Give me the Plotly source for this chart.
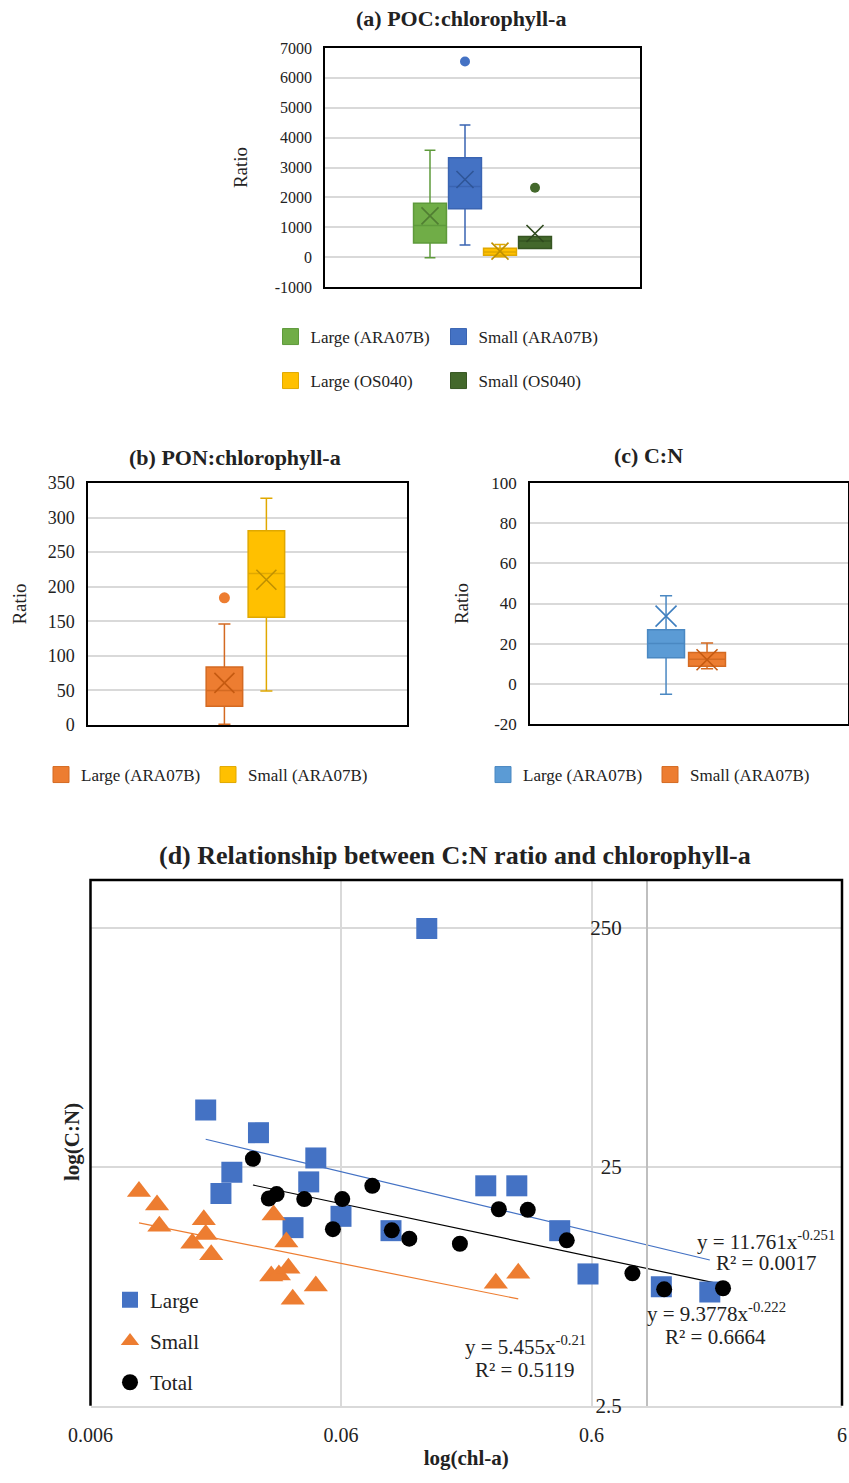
import numpy as np
import plotly.graph_objects as go

FONT = "Liberation Serif"
W, H = 849, 1483

# ---------------- data ----------------
# (a) POC:chlorophyll-a
poc_groups = ["Large (ARA07B)", "Small (ARA07B)", "Large (OS040)", "Small (OS040)"]
poc_q1 = [470, 1620, 60, 290]
poc_median = [1060, 2360, 170, 540]
poc_q3 = [1800, 3330, 300, 690]
poc_lower = [-20, 410, 10, 290]
poc_upper = [3580, 4420, 420, 690]
poc_mean = [1380, 2600, 200, 790]
poc_outliers = [[], [6550], [], [2320]]
poc_ticks = [-1000, 0, 1000, 2000, 3000, 4000, 5000, 6000, 7000]

# (b) PON:chlorophyll-a
pon_groups = ["Large (ARA07B)", "Small (ARA07B)"]
pon_q1 = [27, 156]
pon_median = [50, 219]
pon_q3 = [84, 281]
pon_lower = [1, 49]
pon_upper = [146, 328]
pon_mean = [61, 210]
pon_outliers = [[184], []]
pon_ticks = [0, 50, 100, 150, 200, 250, 300, 350]

# (c) C:N
cn_groups = ["Large (ARA07B)", "Small (ARA07B)"]
cn_q1 = [13.0, 8.8]
cn_median = [20.1, 12.2]
cn_q3 = [26.9, 15.6]
cn_lower = [-5.2, 7.5]
cn_upper = [43.8, 20.3]
cn_mean = [33.7, 12.0]
cn_outliers = [[], []]
cn_ticks = [-20, 0, 20, 40, 60, 80, 100]

# (d) C:N vs chlorophyll-a
large_chl = [0.132, 0.0173, 0.0281, 0.0476, 0.0220, 0.0199, 0.0446, 0.0386,
             0.060, 0.095, 0.227, 0.302, 0.448, 0.581, 1.14, 1.78]
large_cn = [248, 43.2, 34.7, 27.2, 23.7, 19.3, 21.6, 13.9,
            15.5, 13.5, 20.8, 20.8, 13.5, 8.9, 7.87, 7.48]
small_chl = [0.00937, 0.01106, 0.0113, 0.0170, 0.0173, 0.0153, 0.0182, 0.0323,
             0.0363, 0.0316, 0.0339, 0.0370, 0.0385, 0.0476, 0.249, 0.306]
small_cn = [19.7, 17.3, 14.1, 15.0, 13.0, 11.95, 10.7, 15.7,
            12.1, 8.72, 8.81, 9.4, 6.97, 7.92, 8.13, 8.95]
total_chl = [0.0267, 0.0309, 0.0332, 0.0428, 0.0607, 0.080, 0.0557, 0.0957,
             0.1124, 0.179, 0.256, 0.334, 0.478, 0.874, 1.17, 2.01]
total_cn = [27.0, 18.4, 19.2, 18.3, 18.3, 20.8, 13.7, 13.55,
            12.5, 11.9, 16.6, 16.5, 12.3, 8.95, 7.67, 7.75]
# power trendlines y = a * x^b (as printed on the chart)
fit_large = (11.761, -0.251, "0.0017")
fit_small = (5.455, -0.21, "0.5119")
fit_total = (9.3778, -0.222, "0.6664")

x_ticks_d = [0.006, 0.06, 0.6, 6]
y_ticks_d = [2.5, 25, 250]

# ---------------- helpers ----------------
def fx(px):
    return px / W

def fy(py):
    return 1 - py / H

fig = go.Figure()
legend_cfg = {}
leg_counter = [0]

def new_legend(cx, cy, size=17):
    leg_counter[0] += 1
    key = "legend" if leg_counter[0] == 1 else f"legend{leg_counter[0]}"
    legend_cfg[key] = dict(x=fx(cx - 20), y=fy(cy), xanchor="left", yanchor="middle",
                           bgcolor="rgba(0,0,0,0)", borderwidth=0,
                           font=dict(family=FONT, size=size, color="#222"),
                           itemclick=False, itemdoubleclick=False)
    return key

def box_panel(n, groups, q1, med, q3, lo, hi, mean, outl, fills, edges,
              mcolors, msize, bw, leg_pos, osize=10):
    xa = "x" if n == 1 else f"x{n}"
    ya = "y" if n == 1 else f"y{n}"
    for i, g in enumerate(groups):
        fig.add_trace(go.Box(x=[g], q1=[q1[i]], median=[med[i]], q3=[q3[i]],
                             lowerfence=[lo[i]], upperfence=[hi[i]],
                             fillcolor=fills[i], line=dict(color=edges[i], width=1.5),
                             whiskerwidth=0.33, width=bw, boxpoints=False,
                             showlegend=False, hoverinfo="skip", xaxis=xa, yaxis=ya))
    for i, g in enumerate(groups):
        fig.add_trace(go.Scatter(x=[g], y=[mean[i]], mode="markers",
                                 marker=dict(symbol="x-thin-open", size=msize,
                                             color=mcolors[i],
                                             line=dict(color=mcolors[i], width=1.6)),
                                 showlegend=False, hoverinfo="skip", xaxis=xa, yaxis=ya))
        if outl[i]:
            fig.add_trace(go.Scatter(x=[g] * len(outl[i]), y=outl[i], mode="markers",
                                     marker=dict(symbol="circle", size=osize, color=fills[i]),
                                     showlegend=False, hoverinfo="skip", xaxis=xa, yaxis=ya))
    for i, g in enumerate(groups):
        key = new_legend(*leg_pos[i])
        fig.add_trace(go.Scatter(x=[None], y=[None], mode="markers", name=g,
                                 marker=dict(symbol="square", size=16, color=fills[i],
                                             line=dict(color=edges[i], width=1)),
                                 legend=key, showlegend=True, xaxis=xa, yaxis=ya))

# ---------------- panel (a) ----------------
box_panel(1, poc_groups, poc_q1, poc_median, poc_q3, poc_lower, poc_upper, poc_mean,
          poc_outliers,
          ["#70AD47", "#4472C4", "#FFC000", "#43682B"],
          ["#5E9A3B", "#3A64B2", "#E0A800", "#365522"],
          ["#507E32", "#2F5597", "#BF9000", "#2E4A1D"], 17, 0.94,
          [(290.5, 337), (458.5, 337), (290.5, 381), (458.5, 381)], osize=10)

# ---------------- panel (b) ----------------
box_panel(2, pon_groups, pon_q1, pon_median, pon_q3, pon_lower, pon_upper, pon_mean,
          pon_outliers,
          ["#ED7D31", "#FFC000"],
          ["#D46A22", "#E0A800"],
          ["#C55A11", "#BF9000"], 20, 0.87,
          [(61, 775), (228, 775)], osize=11)

# ---------------- panel (c) ----------------
box_panel(3, cn_groups, cn_q1, cn_median, cn_q3, cn_lower, cn_upper, cn_mean,
          cn_outliers,
          ["#5B9BD5", "#ED7D31"],
          ["#4A88C2", "#D46A22"],
          ["#3F7FBF", "#C55A11"], 21, 0.9,
          [(503, 775), (670, 775)])

# ---------------- panel (d) ----------------
dleg = new_legend(130, 1341, size=21)
legend_cfg[dleg].update(tracegroupgap=11, yanchor="middle")

def trend(xs, fit, color):
    a, b, _ = fit
    xl = np.array([min(xs), max(xs)])
    fig.add_trace(go.Scatter(x=xl, y=a * xl ** b, mode="lines",
                             line=dict(color=color, width=1.2), showlegend=False,
                             hoverinfo="skip", xaxis="x4", yaxis="y4"))

trend(large_chl, fit_large, "#4472C4")
trend(small_chl, fit_small, "#ED7D31")
trend(total_chl, fit_total, "#000000")

fig.add_trace(go.Scatter(x=large_chl, y=large_cn, mode="markers", name="Large",
                         marker=dict(symbol="square", size=21, color="#4472C4"),
                         legend=dleg, legendgroup="L", xaxis="x4", yaxis="y4"))
fig.add_trace(go.Scatter(x=small_chl, y=small_cn, mode="markers", name="Small",
                         marker=dict(symbol="triangle-up", size=21, color="#ED7D31"),
                         legend=dleg, legendgroup="S", xaxis="x4", yaxis="y4"))
fig.add_trace(go.Scatter(x=total_chl, y=total_cn, mode="markers", name="Total",
                         marker=dict(symbol="circle", size=16, color="#000000"),
                         legend=dleg, legendgroup="T", xaxis="x4", yaxis="y4"))

# ---------------- layout ----------------
GRID = "#D9D9D9"

def box_axes(n, xd, yd, yr, ticks, xr, tsize, standoff):
    sx = "" if n == 1 else str(n)
    xa = dict(domain=[fx(xd[0]), fx(xd[1])], anchor=f"y{sx}", type="category",
              range=xr, showticklabels=False, ticks="", showgrid=False,
              showline=True, linecolor="#000", linewidth=1.5, mirror=True,
              zeroline=False, fixedrange=True)
    ya = dict(domain=[fy(yd[1]), fy(yd[0])], anchor=f"x{sx}", range=yr,
              tickvals=ticks, ticktext=[str(t) for t in ticks],
              showgrid=True, gridcolor=GRID, gridwidth=1.5, zeroline=False,
              showline=True, linecolor="#000", linewidth=1.5, mirror=True,
              ticks="", ticklabelstandoff=8,
              tickfont=dict(family=FONT, size=tsize, color="#222"),
              title=dict(text="Ratio", font=dict(family=FONT, size=19, color="#222"),
                         standoff=standoff),
              automargin=False, fixedrange=True)
    return {f"xaxis{sx}": xa, f"yaxis{sx}": ya}

layout = {}
layout.update(box_axes(1, (325, 640), (48, 287), [-1000, 7000], poc_ticks, [-3.0, 6.0], 16, 22))
layout.update(box_axes(2, (88, 407), (483, 725), [0, 350], pon_ticks, [-3.25, 4.35], 18, 16))
layout.update(box_axes(3, (530, 848), (483, 724), [-20, 100], cn_ticks, [-3.32, 4.44], 17, 18))

xr_d = [np.log10(x_ticks_d[0]), np.log10(x_ticks_d[-1])]
yr_d = [np.log10(y_ticks_d[0]), np.log10(396)]
xd_d = [fx(90.5), fx(842)]
yd_d = [fy(1405.7), fy(880)]
ypos = xd_d[0] + (xd_d[1] - xd_d[0]) * (0 - xr_d[0]) / (xr_d[1] - xr_d[0])

layout["xaxis4"] = dict(domain=xd_d, anchor="y4", type="log", range=xr_d,
                        tickvals=x_ticks_d, ticktext=[str(v) for v in x_ticks_d],
                        showgrid=True, gridcolor=GRID, gridwidth=1.5,
                        showline=True, linecolor=GRID, linewidth=2, ticks="",
                        ticklabelstandoff=10, zeroline=False,
                        tickfont=dict(family=FONT, size=20, color="#222"),
                        title=dict(text="<b>log(chl-a)</b>", standoff=6,
                                   font=dict(family=FONT, size=21, color="#222")),
                        automargin=False, fixedrange=True)
layout["yaxis4"] = dict(domain=yd_d, anchor="free", position=ypos, type="log", range=yr_d,
                        tickvals=y_ticks_d, ticktext=[str(v) for v in y_ticks_d],
                        showgrid=True, gridcolor=GRID, gridwidth=1.5,
                        showline=True, linecolor="#BFBFBF", linewidth=2, ticks="",
                        ticklabelstandoff=20, zeroline=False,
                        tickfont=dict(family=FONT, size=21, color="#222"),
                        automargin=False, fixedrange=True)

# frame of panel (d): black on left / top / right
shapes = [dict(type="path", xref="x4 domain", yref="y4 domain",
               path="M0,0 L0,1 L1,1 L1,0", line=dict(color="#000", width=2.5),
               layer="above")]

def title(txt, cx, cy, size=22):
    return dict(text=f"<b>{txt}</b>", x=fx(cx), y=fy(cy), xref="paper", yref="paper",
                xanchor="center", yanchor="middle", showarrow=False,
                font=dict(family=FONT, size=size, color="#222"))

def note(txt, cx, cy, size=21):
    return dict(text=txt, x=fx(cx), y=fy(cy), xref="paper", yref="paper",
                xanchor="center", yanchor="middle", showarrow=False,
                font=dict(family=FONT, size=size, color="#222"))

def eq(fit):
    a, b, _ = fit
    return f"y = {a}x<sup>{b}</sup>"

def r2(fit):
    return f"R² = {fit[2]}"

annotations = [
    title("(a) POC:chlorophyll-a", 460.5, 18),
    title("(b) PON:chlorophyll-a", 235, 457),
    title("(c) C:N", 648, 456),
    title("(d) Relationship between C:N ratio and chlorophyll-a", 455, 855, size=26),
    dict(text="<b>log(C:N)</b>", x=fx(72), y=fy(1142), xref="paper", yref="paper",
         textangle=-90, showarrow=False, xanchor="center", yanchor="middle",
         font=dict(family=FONT, size=21, color="#222")),
    note(eq(fit_large), 766, 1240),
    note(r2(fit_large), 766, 1263),
    note(eq(fit_total), 716, 1312),
    note(r2(fit_total), 715, 1337),
    note(eq(fit_small), 525, 1345),
    note(r2(fit_small), 525, 1370),
]

fig.update_layout(**layout)
fig.update_layout(**legend_cfg)
fig.update_layout(width=W, height=H, margin=dict(l=0, r=0, t=0, b=0),
                  paper_bgcolor="white", plot_bgcolor="white",
                  shapes=shapes, annotations=annotations, boxmode="overlay",
                  hovermode=False, font=dict(family=FONT, color="#222"))

fig.write_html("out.html", config={"displayModeBar": False},
               post_script="document.body.style.margin='0px';document.body.style.overflow='hidden';")
